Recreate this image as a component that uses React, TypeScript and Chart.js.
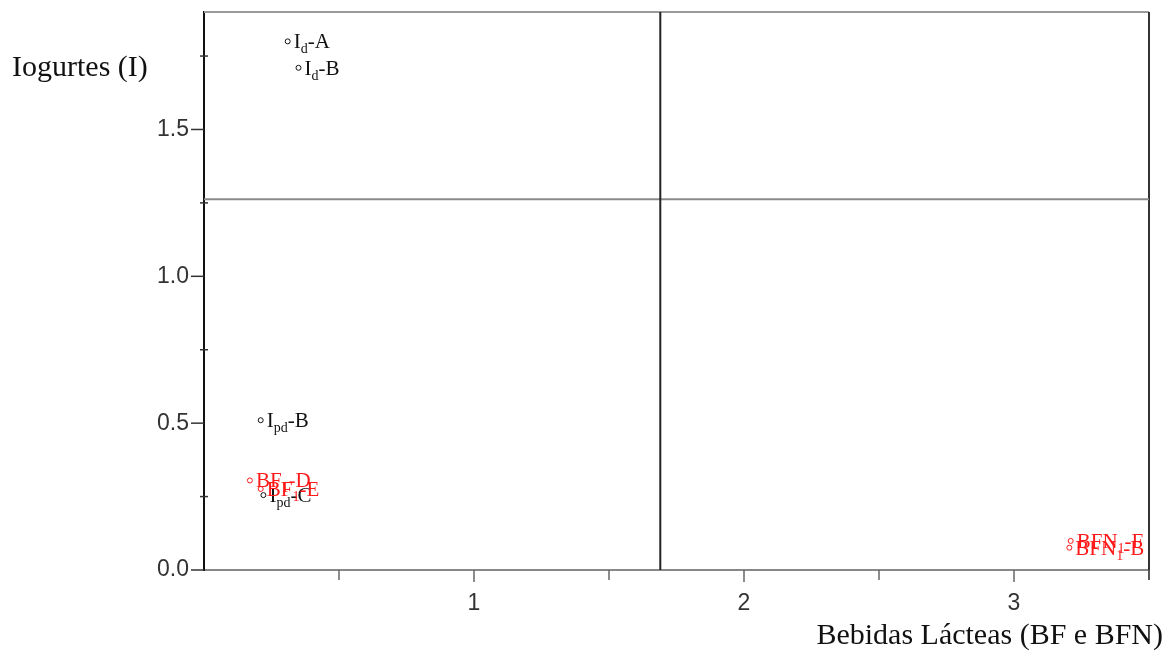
import React, { useEffect, useRef } from 'react';
import { Chart, registerables } from 'chart.js';

Chart.register(...registerables);

// ---- data ----
const yogurtNames = ['I{d}-A', 'I{d}-B', 'I{pd}-B', 'I{pd}-C'];
const yogurtX = [0.31, 0.35, 0.21, 0.22];
const yogurtY = [1.80, 1.71, 0.51, 0.255];

const drinkNames = ['BF{1}-D', 'BF{1}-E', 'BFN{1}-F', 'BFN{1}-B'];
const drinkX = [0.17, 0.21, 3.21, 3.205];
const drinkY = [0.305, 0.276, 0.099, 0.076];

const xTickLabels = [1, 2, 3];
const xMinorTicks = [0.5, 1.5, 2.5, 3.5];
const yTickLabels = [0, 0.5, 1, 1.5];
const yMinorTicks = [0.25, 0.75, 1.25, 1.75];

const xRange = [0, 3.5];
const yRange = [0, 1.9];
const xDivider = 1.69;
const yDivider = 1.262;

const xTitle = 'Bebidas Lácteas (BF e BFN)';
const yTitle = 'Iogurtes (I)';

const BLACK = '#111111';
const RED = '#ff1a1a';
const SERIF = '"Liberation Serif", "DejaVu Serif", serif';
const SANS = '"Liberation Sans", Arial, sans-serif';

function drawRichLabel(ctx: CanvasRenderingContext2D, label: string, x: number, y: number, color: string) {
  const m = label.match(/^(.*)\{(.*)\}(.*)$/);
  const parts = m ? [m[1], m[2], m[3]] : [label, '', ''];
  ctx.save();
  ctx.fillStyle = color;
  ctx.textBaseline = 'alphabetic';
  ctx.textAlign = 'left';
  let cx = x;
  const base = y + 7;
  ctx.font = `21px ${SERIF}`;
  ctx.fillText(parts[0], cx, base);
  cx += ctx.measureText(parts[0]).width;
  if (parts[1]) {
    ctx.font = `14px ${SERIF}`;
    ctx.fillText(parts[1], cx, base + 5);
    cx += ctx.measureText(parts[1]).width;
  }
  ctx.font = `21px ${SERIF}`;
  ctx.fillText(parts[2], cx, base);
  ctx.restore();
}

const decorPlugin = {
  id: 'decor',
  beforeDatasetsDraw(chart: any) {
    const { ctx, chartArea, scales } = chart;
    const xs = scales.x;
    const ys = scales.y;
    ctx.save();
    // top border
    ctx.strokeStyle = '#9a9a9a';
    ctx.lineWidth = 2;
    ctx.beginPath();
    ctx.moveTo(chartArea.left, chartArea.top);
    ctx.lineTo(chartArea.right, chartArea.top);
    ctx.stroke();
    // right border
    ctx.strokeStyle = '#333333';
    ctx.beginPath();
    ctx.moveTo(chartArea.right, chartArea.top);
    ctx.lineTo(chartArea.right, chartArea.bottom + 10);
    ctx.stroke();
    // quadrant lines
    const hx = ys.getPixelForValue(yDivider);
    ctx.strokeStyle = '#8a8a8a';
    ctx.beginPath();
    ctx.moveTo(chartArea.left, hx);
    ctx.lineTo(chartArea.right, hx);
    ctx.stroke();
    const vx = xs.getPixelForValue(xDivider);
    ctx.strokeStyle = '#222222';
    ctx.beginPath();
    ctx.moveTo(vx, chartArea.top);
    ctx.lineTo(vx, chartArea.bottom);
    ctx.stroke();

    // ticks
    ctx.lineWidth = 1.5;
    ctx.strokeStyle = '#333333';
    yTickLabels.forEach((v) => {
      const py = ys.getPixelForValue(v);
      ctx.beginPath();
      ctx.moveTo(chartArea.left - 13, py);
      ctx.lineTo(chartArea.left, py);
      ctx.stroke();
    });
    yMinorTicks.forEach((v) => {
      const py = ys.getPixelForValue(v);
      ctx.beginPath();
      ctx.moveTo(chartArea.left - 4, py);
      ctx.lineTo(chartArea.left + 4, py);
      ctx.stroke();
    });
    ctx.strokeStyle = '#666666';
    xTickLabels.forEach((v) => {
      const px = xs.getPixelForValue(v);
      ctx.beginPath();
      ctx.moveTo(px, chartArea.bottom);
      ctx.lineTo(px, chartArea.bottom + 12);
      ctx.stroke();
    });
    xMinorTicks.forEach((v) => {
      const px = xs.getPixelForValue(v);
      ctx.beginPath();
      ctx.moveTo(px, chartArea.bottom);
      ctx.lineTo(px, chartArea.bottom + 10);
      ctx.stroke();
    });

    // titles
    ctx.fillStyle = BLACK;
    ctx.font = `30px ${SERIF}`;
    ctx.textBaseline = 'middle';
    ctx.textAlign = 'left';
    ctx.fillText(yTitle, 12, 68);
    ctx.textAlign = 'right';
    ctx.fillText(xTitle, 1163, 636);
    ctx.restore();
  },
  afterDatasetsDraw(chart: any) {
    const { ctx } = chart;
    chart.data.datasets.forEach((ds: any, i: number) => {
      const meta = chart.getDatasetMeta(i);
      meta.data.forEach((el: any, j: number) => {
        drawRichLabel(ctx, ds.names[j], el.x + 6, el.y, ds.labelColor);
      });
    });
  },
};

export default function App() {
  const ref = useRef<HTMLCanvasElement | null>(null);
  useEffect(() => {
    if (!ref.current) return;
    const chart = new Chart(ref.current, {
      type: 'scatter',
      data: {
        datasets: [
          {
            label: 'Iogurtes',
            data: yogurtX.map((x, i) => ({ x, y: yogurtY[i] })),
            names: yogurtNames,
            labelColor: BLACK,
            pointStyle: 'circle',
            pointRadius: 2.5,
            borderWidth: 1,
            borderColor: BLACK,
            backgroundColor: '#ffffff',
          } as any,
          {
            label: 'Bebidas',
            data: drinkX.map((x, i) => ({ x, y: drinkY[i] })),
            names: drinkNames,
            labelColor: RED,
            pointStyle: 'circle',
            pointRadius: 2.5,
            borderWidth: 1,
            borderColor: RED,
            backgroundColor: '#ffffff',
          } as any,
        ],
      },
      options: {
        responsive: false,
        animation: false,
        events: [],
        layout: { padding: { top: 12, right: 18, left: 0, bottom: 0 } },
        plugins: { legend: { display: false }, tooltip: { enabled: false } },
        scales: {
          x: {
            type: 'linear',
            min: xRange[0],
            max: xRange[1],
            grid: { display: false, drawTicks: false },
            border: { display: true, color: '#888888', width: 2 },
            afterBuildTicks: (s: any) => {
              s.ticks = xTickLabels.map((v) => ({ value: v }));
            },
            afterFit: (s: any) => {
              s.height = 84;
              s.paddingLeft = 0;
              s.paddingRight = 0;
            },
            ticks: {
              padding: 20,
              color: '#333333',
              font: { family: SANS, size: 23 },
              callback: (v: any) => String(v),
            },
          },
          y: {
            type: 'linear',
            min: yRange[0],
            max: yRange[1],
            grid: { display: false, drawTicks: false },
            border: { display: true, color: '#111111', width: 2 },
            afterBuildTicks: (s: any) => {
              s.ticks = yTickLabels.map((v) => ({ value: v }));
            },
            afterFit: (s: any) => {
              s.width = 204;
              s.paddingTop = 0;
              s.paddingBottom = 0;
            },
            ticks: {
              padding: 15,
              color: '#333333',
              font: { family: SANS, size: 23 },
              callback: (v: any) => Number(v).toFixed(1),
            },
          },
        },
      },
      plugins: [decorPlugin],
    });
    return () => chart.destroy();
  }, []);
  return (
    <div style={{ position: 'absolute', left: 0, top: 0, width: 1167, height: 654, background: '#fff' }}>
      <canvas ref={ref} width={1167} height={654} style={{ display: 'block' }} />
    </div>
  );
}
